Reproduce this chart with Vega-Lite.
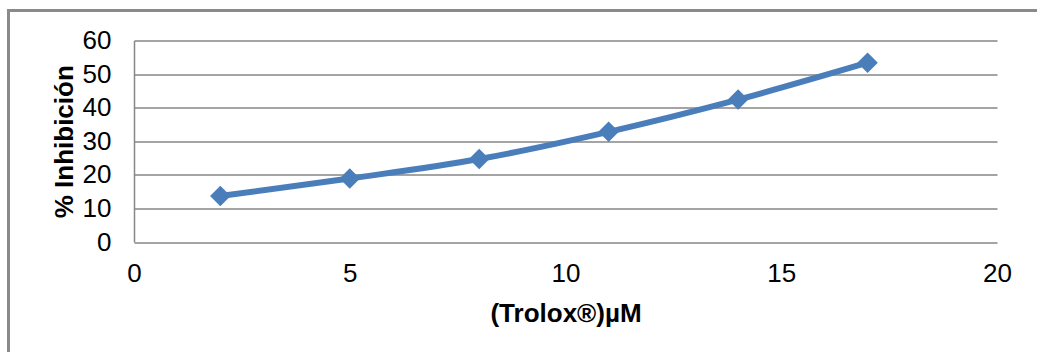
{
  "$schema": "https://vega.github.io/schema/vega-lite/v6.json",
  "width": 863,
  "height": 201.5,
  "autosize": "none",
  "padding": {"left": 134, "top": 40.5, "right": 40, "bottom": 110},
  "background": "white",
  "config": {
    "view": {"stroke": null},
    "font": "Liberation Sans",
    "axis": {
      "labelFont": "Liberation Sans",
      "labelFontSize": 26,
      "labelColor": "#000000",
      "labelOverlap": false,
      "titleFont": "Liberation Sans",
      "titleFontSize": 26,
      "titleFontWeight": "bold",
      "titleColor": "#000000",
      "ticks": false,
      "tickSize": 0,
      "domainColor": "#868686",
      "domainWidth": 1.5,
      "gridColor": "#868686",
      "gridWidth": 1.5
    }
  },
  "data": {
    "values": [
      {"trolox": 2, "inhibicion": 13.7},
      {"trolox": 5, "inhibicion": 18.9},
      {"trolox": 8, "inhibicion": 24.7},
      {"trolox": 11, "inhibicion": 32.8},
      {"trolox": 14, "inhibicion": 42.4},
      {"trolox": 17, "inhibicion": 53.4}
    ]
  },
  "layer": [
    {
      "mark": {"type": "line", "color": "#4a7ebb", "strokeWidth": 6, "interpolate": "monotone"},
      "encoding": {
        "x": {
          "field": "trolox",
          "type": "quantitative",
          "scale": {"domain": [0, 20], "nice": false, "zero": false},
          "axis": {
            "title": "(Trolox®)µM",
            "values": [0, 5, 10, 15, 20],
            "tickCount": 20,
            "grid": false,
            "domain": false,
            "labelPadding": 18,
            "titlePadding": 14,
            "labelFlush": false
          }
        },
        "y": {
          "field": "inhibicion",
          "type": "quantitative",
          "scale": {"domain": [0, 60], "nice": false},
          "axis": {
            "title": "% Inhibición",
            "values": [0, 10, 20, 30, 40, 50, 60],
            "tickCount": 20,
            "grid": true,
            "domain": true,
            "labelPadding": 23,
            "titlePadding": 5
          }
        }
      }
    },
    {
      "mark": {"type": "point", "shape": "diamond", "filled": true, "color": "#4a7ebb", "size": 420, "opacity": 1},
      "encoding": {
        "x": {"field": "trolox", "type": "quantitative"},
        "y": {"field": "inhibicion", "type": "quantitative"}
      }
    },
    {
      "mark": {"type": "rect", "fill": null, "stroke": "#8a8a8a", "strokeWidth": 2.5, "clip": false},
      "encoding": {
        "x": {"datum": -2.91, "type": "quantitative"},
        "x2": {"datum": 30},
        "y": {"datum": 68.9, "type": "quantitative"},
        "y2": {"datum": -60}
      }
    }
  ]
}
